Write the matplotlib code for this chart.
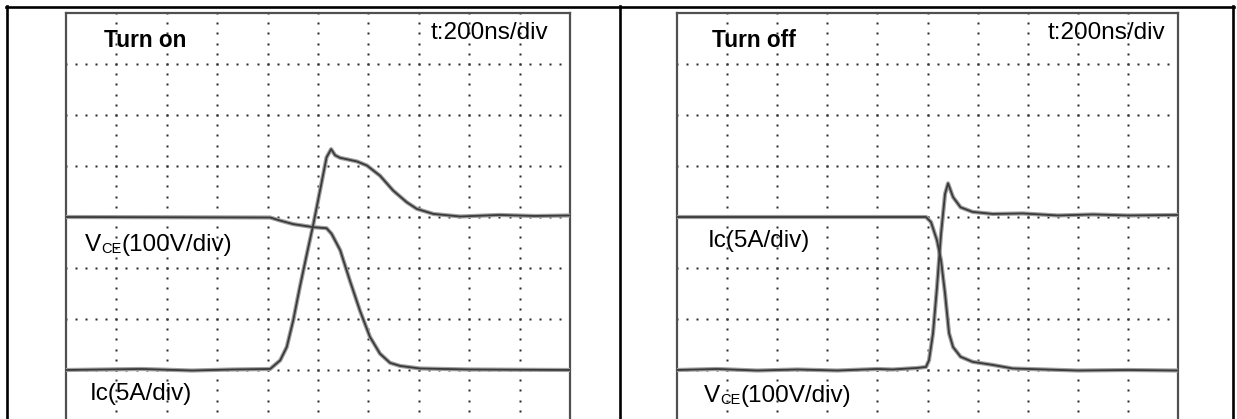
import numpy as np
import matplotlib
matplotlib.use("Agg")
import matplotlib.pyplot as plt
from matplotlib.lines import Line2D

plt.rcParams['font.family'] = ['Liberation Sans', 'DejaVu Sans']

on_vce_x = [0, 4.05, 4.25, 4.51, 4.91, 5.17, 5.27, 5.44, 5.63, 5.83, 6.03, 6.23, 6.43, 6.63, 7.02, 8.0, 10]
on_vce_y = [4.0, 3.99, 3.93, 3.86, 3.80, 3.78, 3.67, 3.35, 2.76, 2.17, 1.65, 1.32, 1.14, 1.08, 1.03, 1.01, 1.0]

on_ic_x = [0, 1.5, 2.5, 3.3, 4.05, 4.25, 4.38, 4.51, 4.64, 4.78, 4.91, 5.04, 5.17, 5.26, 5.34, 5.44,
           5.77, 5.97, 6.23, 6.49, 6.76, 6.96, 7.29, 7.82, 8.6, 9.3, 10]
on_ic_y = [1.0, 1.02, 0.99, 1.01, 1.02, 1.19, 1.45, 1.98, 2.63, 3.28, 3.87, 4.52, 5.17, 5.33, 5.21, 5.16,
           5.09, 5.01, 4.81, 4.52, 4.29, 4.16, 4.06, 4.01, 4.04, 4.02, 4.03]

off_ic_x = [0, 4.97, 5.07, 5.19, 5.27, 5.35, 5.43, 5.51, 5.66, 5.90, 6.30, 6.70, 8.0, 9.0, 10]
off_ic_y = [4.0, 4.0, 3.90, 3.54, 3.15, 2.50, 1.72, 1.45, 1.26, 1.16, 1.10, 1.03, 0.99, 1.0, 0.99]

off_vce_x = [0, 0.8, 1.6, 2.4, 3.2, 4.0, 4.3, 4.8, 4.97, 5.03, 5.11, 5.19, 5.27, 5.35, 5.41, 5.51,
             5.66, 5.90, 6.30, 6.9, 7.6, 8.3, 9.0, 10]
off_vce_y = [1.0, 1.02, 0.99, 1.01, 0.99, 1.02, 1.01, 1.04, 1.06, 1.19, 1.72, 2.63, 3.67, 4.45, 4.66, 4.39,
             4.19, 4.10, 4.06, 4.07, 4.03, 4.05, 4.03, 4.04]

W, H = 1237, 419
fig = plt.figure(figsize=(W / 100, H / 100), dpi=100)


def px_axes(left, right, top, bottom):
    return fig.add_axes([left / W, (H - bottom) / H, (right - left) / W, (bottom - top) / H])


def scope(ax):
    ax.set_xlim(0, 10)
    ax.set_ylim(0, 8)
    ax.set_xticks([])
    ax.set_yticks([])
    for s in ['top', 'left', 'right']:
        ax.spines[s].set_color('#505050')
        ax.spines[s].set_linewidth(1.6)
    ax.spines['bottom'].set_visible(False)
    # dotted graticule
    dots = np.arange(0, 10.001, 0.2)
    for k in range(1, 8):
        ax.plot(dots, np.full_like(dots, k), ls='none', marker='s', ms=1.6,
                mec='none', mfc='#2a2a2a', zorder=1)
    vd = np.arange(0, 8.001, 0.2)
    for k in range(1, 10):
        ax.plot(np.full_like(vd, k), vd, ls='none', marker='s', ms=1.6,
                mec='none', mfc='#2a2a2a', zorder=1)


def trace(ax, x, y):
    ax.plot(x, y, color='#a0a0a0', lw=3.0, solid_joinstyle='round', zorder=3)
    ax.plot(x, y, color='#3a3a3a', lw=1.3, solid_joinstyle='round', zorder=4)


def vce_label(ax, x, y):
    t1 = ax.text(x, y, 'V', fontsize=17.5, va='baseline', ha='left')
    t2 = ax.annotate('CE', xy=(1, 0), xycoords=t1, fontsize=10.5, va='bottom', ha='left')
    ax.annotate('(100V/div)', xy=(1, 0), xycoords=(t2, t1), fontsize=17.5,
                va='bottom', ha='left')


# left: turn on
ax1 = px_axes(66, 570, 13, 421)
scope(ax1)
trace(ax1, on_vce_x, on_vce_y)
trace(ax1, on_ic_x, on_ic_y)
ax1.text(0.75, 7.34, 'Turn on', fontsize=16.3, fontweight='bold', va='baseline')
ax1.text(7.24, 7.49, 't:200ns/div', fontsize=17.5, va='baseline')
vce_label(ax1, 0.38, 3.33)
ax1.text(0.48, 0.41, 'Ic(5A/div)', fontsize=17.5, va='baseline')

# right: turn off
ax2 = px_axes(677, 1178, 13, 421)
scope(ax2)
trace(ax2, off_ic_x, off_ic_y)
trace(ax2, off_vce_x, off_vce_y)
ax2.text(0.70, 7.33, 'Turn off', fontsize=16.3, fontweight='bold', va='baseline')
ax2.text(7.39, 7.49, 't:200ns/div', fontsize=17.5, va='baseline')
ax2.text(0.62, 3.41, 'Ic(5A/div)', fontsize=17.5, va='baseline')
vce_label(ax2, 0.54, 0.37)

# outer table frame
def fline(x0, y0, x1, y1):
    fig.add_artist(Line2D([x0 / W, x1 / W], [1 - y0 / H, 1 - y1 / H],
                          transform=fig.transFigure, color='black', lw=1.9))

fline(6, 7, 1234, 7)
for xx in (7, 620, 1233):
    fline(xx, 6, xx, 419)

fig.savefig('out.png', dpi=100)
